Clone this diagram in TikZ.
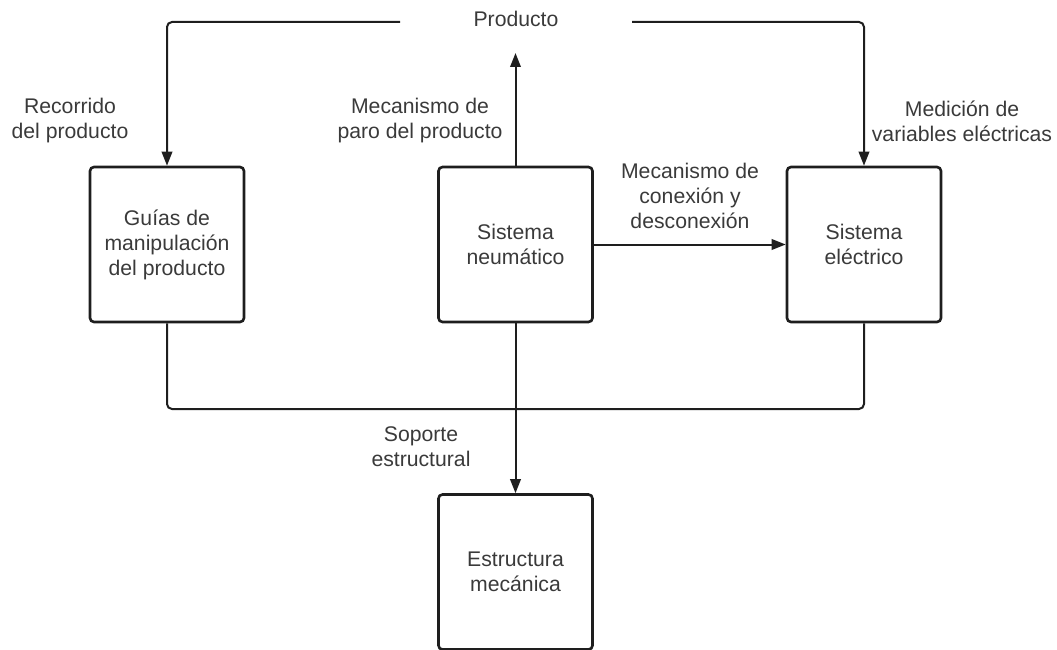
\documentclass[tikz,border=0pt]{standalone}
\usepackage{fontspec}
\setmainfont{Liberation Sans}
\usetikzlibrary{arrows.meta}
\definecolor{txt}{HTML}{3A3A3A}
\definecolor{ln}{HTML}{1E1E1E}
\begin{document}
\begin{tikzpicture}[x=1pt,y=-1pt,
  every node/.style={text=txt,font=\fontsize{21.2}{25}\selectfont,align=center},
  block/.style={draw=ln,line width=2.6pt,rounded corners=4pt,
    minimum width=154pt,minimum height=155pt,inner sep=0pt},
  flow/.style={draw=ln,line width=2pt,rounded corners=5pt},
  arr/.style={flow,-{Triangle[length=14pt,width=10.5pt]}},
  lbl/.style={inner sep=0pt}]
\useasboundingbox (0,0) rectangle (1057,650);

% functional blocks
\node[block] (guias) at (167,244.5) {Guías de\\manipulación\\del producto};
\node[block] (neum)  at (515.5,244.5) {Sistema\\neumático};
\node[block] (elec)  at (864,244.5) {Sistema\\eléctrico};
\node[block] (estr)  at (515.5,572) {Estructura\\mecánica};

% product flow along the top
\node[lbl] (prod) at (516,19) {Producto};
\coordinate (pl) at (400,22);
\coordinate (pr) at (632,22);
\coordinate (pup) at (515.5,53);
\draw[arr] (pl) -| (guias.north);
\draw[arr] (pr) -| (elec.north);
\draw[arr] (neum.north) -- (pup);

% pneumatic to electric link
\draw[arr] (neum.east) -- (elec.west);

% structural support bus
\coordinate (bus) at (515.5,409);
\draw[flow] (guias.south) |- (bus);
\draw[flow] (elec.south) |- (bus);
\draw[arr] (neum.south) -- (estr.north);

% labels
\node[lbl] (l1) at (70,121) {Recorrido\\del producto};
\node[lbl] (l2) at (420,121) {Mecanismo de\\paro del producto};
\node[lbl] (l3) at (690,196) {Mecanismo de\\conexión y\\desconexión};
\node[lbl] (l4) at (962,121) {Medición de\\variables eléctricas};
\node[lbl] (l5) at (421,447) {Soporte\\estructural};
\end{tikzpicture}
\end{document}
